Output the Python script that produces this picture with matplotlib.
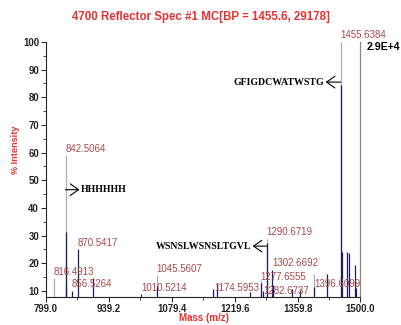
import matplotlib
matplotlib.use("Agg")
import matplotlib.pyplot as plt
from matplotlib.ticker import FixedLocator, MultipleLocator

# ---- data ----
title = "4700 Reflector Spec #1 MC[BP = 1455.6, 29178]"
xlabel = "Mass (m/z)"
ylabel = "% Intensity"
x_ticks = [799.0, 939.2, 1079.4, 1219.6, 1359.8, 1500.0]
y_ticks = [10, 20, 30, 40, 50, 60, 70, 80, 90, 100]

# light (profile) peaks
light_mass = [816.5, 842.5, 1045.6, 1277.7, 1290.7, 1396.6, 1455.6]
light_int = [14.7, 59.2, 15.8, 14.0, 28.8, 16.1, 100.0]

# dark (centroid) peaks
dark_mass = [842.9, 844.5, 856.5, 870.5, 904.0, 1010.5, 1045.6, 1172.0, 1179.5,
             1253.7, 1277.9, 1282.7, 1290.9, 1302.7, 1305.0, 1347.0, 1365.0,
             1396.8, 1426.0, 1455.8, 1458.0, 1471.0, 1473.5, 1487.6, 1490.0]
dark_int = [31.3, 11.8, 10.1, 25.1, 14.7, 8.9, 11.6, 10.8, 12.5,
            9.5, 12.9, 10.0, 27.2, 17.6, 12.2, 10.7, 10.4,
            11.5, 16.1, 84.5, 24.1, 24.1, 23.7, 19.4, 11.0]

# peak labels: text and mass
peak_labels = ["816.4913", "842.5064", "856.5264", "870.5417", "1010.5214",
               "1045.5607", "1174.5953", "1277.6555", "1282.6737", "1290.6719",
               "1302.6692", "1396.6099", "1455.6384"]
label_heights = [15.1, 59.5, 10.7, 25.6, 9.3, 16.2, 9.3, 13.4, 8.2, 29.5,
                 18.3, 10.7, 100.9]

# sequence annotations: text, peak mass, peak level
seq_text = ["HHHHHH", "GFIGDCWATWSTG", "WSNSLWSNSLTGVL"]
seq_mass = [842.5, 1455.6, 1290.7]
seq_level = [46.6, 85.5, 26.2]
abs_label = "2.9E+4"

# ---- figure ----
W, H, DPI = 401, 325, 100
fig = plt.figure(figsize=(W / DPI, H / DPI), dpi=DPI)
ax = fig.add_axes([46 / W, (H - 297) / H, (360.5 - 46) / W, (297 - 42) / H])

sans = ["Liberation Sans", "DejaVu Sans"]
serif = ["Liberation Serif", "DejaVu Serif"]
lab_col = "#a84848"
red = "#e83030"

ax.set_xlim(799.0, 1500.0)
ax.set_ylim(7.8, 100)

ax.vlines(light_mass, 7.8, light_int, colors="#aaaacc", lw=0.9, zorder=2)
ax.vlines(dark_mass, 7.8, dark_int, colors="#1e1e5e", lw=0.9, zorder=3)

for txt, yv in zip(peak_labels, label_heights):
    ax.text(float(txt), yv, txt, ha="left", va="bottom", fontsize=7.0,
            color=lab_col, family=sans, clip_on=False, zorder=5)

# sequence annotations
seq_side = [1, -1, -1]
gap_px = [14, 15, 14]
for txt, m, lv, side, g in zip(seq_text, seq_mass, seq_level, seq_side, gap_px):
    gap = g / 0.4486
    end = m + side * gap
    ax.annotate("", xy=(end, lv), xytext=(m, lv),
                arrowprops=dict(arrowstyle="->,head_length=0.5,head_width=0.35",
                                lw=0.8, color="black",
                                mutation_scale=12, shrinkA=0, shrinkB=0),
                zorder=6)
    ax.text(end + side * 3, lv, txt, ha="left" if side > 0 else "right",
            va="center", fontsize=7.1, fontweight="bold", family=serif,
            color="black", zorder=6)

# absolute intensity label
ax.text(1.02, 1.0, abs_label, transform=ax.transAxes, ha="left", va="top",
        fontsize=7.6, fontweight="bold", family=sans, clip_on=False)

# spines
ax.spines["top"].set_visible(False)
ax.spines["right"].set_color("#888888")
ax.spines["right"].set_linewidth(0.9)
for s in ("left", "bottom"):
    ax.spines[s].set_color("#222222")
    ax.spines[s].set_linewidth(0.8)

ax.xaxis.set_major_locator(FixedLocator(x_ticks))
ax.xaxis.set_minor_locator(FixedLocator([(a + b) / 2 for a, b in zip(x_ticks[:-1], x_ticks[1:])]))
ax.set_xticklabels([f"{v:.1f}" for v in x_ticks])
ax.yaxis.set_major_locator(FixedLocator(y_ticks))
ax.yaxis.set_minor_locator(MultipleLocator(5))
ax.set_yticklabels([str(v) for v in y_ticks])

ax.tick_params(axis="both", which="major", length=3.5, width=0.7, direction="out",
               labelsize=6.9, pad=1.5, colors="#222222")
ax.tick_params(axis="both", which="minor", length=2, width=0.6, direction="out",
               colors="#222222")
ax.tick_params(axis="y", which="both", right=False)
for lbl in ax.get_xticklabels() + ax.get_yticklabels():
    lbl.set_fontweight("bold")
    lbl.set_family(sans)

fig.text(201 / W, 1 - 17 / H, title, ha="center", va="center", fontsize=8.3,
         fontweight="bold", color=red, family=sans)
fig.text(204 / W, 1 - 318 / H, xlabel, ha="center", va="center", fontsize=7.0,
         fontweight="bold", color=red, family=sans)
fig.text(15 / W, 1 - 150 / H, ylabel, ha="center", va="center", rotation=90,
         fontsize=6.6, fontweight="bold", color=red, family=sans)

fig.savefig("out.png", dpi=DPI)
